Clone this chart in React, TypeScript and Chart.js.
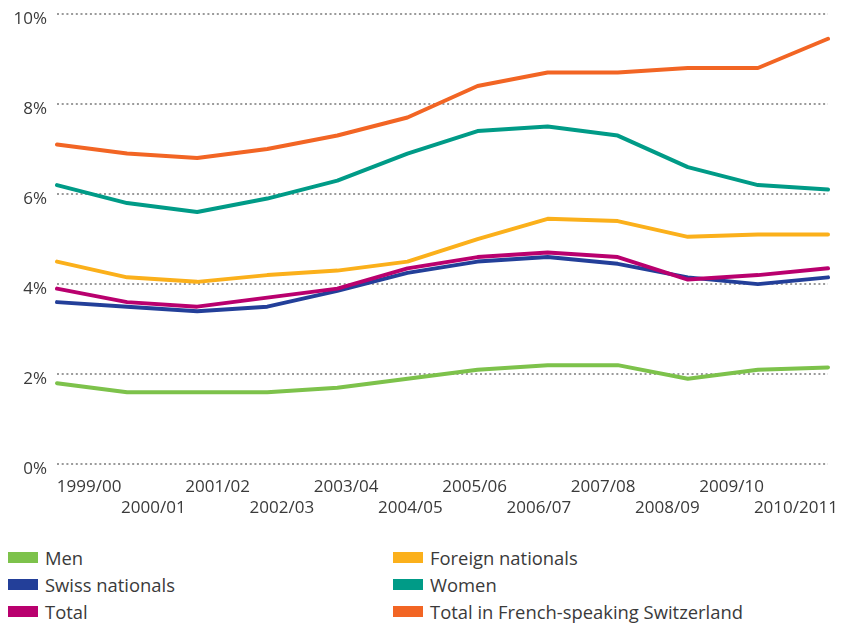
import React, { useEffect, useRef } from 'react';
import { Chart, registerables } from 'chart.js';

Chart.register(...registerables);

const yearLabels = ['1999/00', '2000/01', '2001/02', '2002/03', '2003/04', '2004/05', '2005/06', '2006/07', '2007/08', '2008/09', '2009/10', '2010/2011'];
const yTicks = [0, 2, 4, 6, 8, 10];

const men = [1.8, 1.6, 1.6, 1.6, 1.7, 1.9, 2.1, 2.2, 2.2, 1.9, 2.1, 2.15];
const swiss = [3.6, 3.5, 3.4, 3.5, 3.85, 4.25, 4.5, 4.6, 4.45, 4.15, 4.0, 4.15];
const total = [3.9, 3.6, 3.5, 3.7, 3.9, 4.35, 4.6, 4.7, 4.6, 4.1, 4.2, 4.35];
const foreign = [4.5, 4.15, 4.05, 4.2, 4.3, 4.5, 5.0, 5.45, 5.4, 5.05, 5.1, 5.1];
const women = [6.2, 5.8, 5.6, 5.9, 6.3, 6.9, 7.4, 7.5, 7.3, 6.6, 6.2, 6.1];
const frenchTotal = [7.1, 6.9, 6.8, 7.0, 7.3, 7.7, 8.4, 8.7, 8.7, 8.8, 8.8, 9.45];

const seriesNames = ['Men', 'Swiss nationals', 'Total', 'Foreign nationals', 'Women', 'Total in French-speaking Switzerland'];
const seriesColors = ['#7dc24b', '#233f99', '#b9006e', '#fbb01b', '#009b87', '#f26524'];
const seriesData = [men, swiss, total, foreign, women, frenchTotal];
// drawing order: lower numbers drawn on top
const seriesOrder = [6, 5, 1, 4, 3, 2];

const FONT = '"Open Sans", sans-serif';
const TEXT = '#3a3a3a';

export default function App() {
  const ref = useRef<HTMLCanvasElement>(null);

  useEffect(() => {
    document.body.style.margin = '0';
    const chart = new Chart(ref.current!, {
      type: 'line',
      data: {
        labels: yearLabels,
        datasets: seriesNames.map((name, i) => ({
          label: name,
          data: seriesData[i],
          borderColor: seriesColors[i],
          backgroundColor: seriesColors[i],
          borderWidth: 4,
          pointRadius: 0,
          tension: 0,
          fill: false,
          borderCapStyle: 'round' as const,
          borderJoinStyle: 'round' as const,
          order: seriesOrder[i],
          xAxisID: 'x',
          yAxisID: 'y',
        })),
      },
      options: {
        responsive: false,
        animation: false,
        layout: { padding: { left: 0, top: 14, right: 13, bottom: 3 } },
        plugins: { legend: { display: false }, tooltip: { enabled: false } },
        scales: {
          x: {
            type: 'category',
            display: false,
            offset: false,
            grid: { display: false },
          },
          x2: {
            type: 'category',
            position: 'bottom',
            labels: yearLabels,
            offset: true,
            bounds: 'ticks',
            grid: { display: false, drawTicks: false },
            border: { display: false },
            ticks: {
              autoSkip: false,
              maxRotation: 0,
              minRotation: 0,
              padding: 13,
              color: TEXT,
              font: { family: FONT, size: 17 },
              callback: (_v: any, index: number) =>
                index % 2 === 0 ? yearLabels[index] : ['', yearLabels[index]],
            },
            afterFit: (s: any) => {
              s.paddingLeft = 0;
              s.paddingRight = 0;
            },
          },
          y: {
            min: 0,
            max: 10,
            afterBuildTicks: (s: any) => {
              s.ticks = yTicks.map((v) => ({ value: v }));
            },
            afterFit: (s: any) => {
              s.width = 57;
              s.paddingTop = 0;
              s.paddingBottom = 0;
            },
            grid: {
              color: '#9a9a9a',
              lineWidth: 2,
              drawTicks: false,
              borderDash: [2, 2.7],
            } as any,
            border: { display: false, dash: [2, 2.7] },
            ticks: {
              padding: 10,
              labelOffset: 5,
              color: TEXT,
              font: { family: FONT, size: 17 },
              callback: (v: any) => `${v}%`,
            },
          },
        },
      } as any,
    });
    return () => chart.destroy();
  }, []);

  const col1 = [0, 1, 2];
  const col2 = [3, 4, 5];
  const rowTops = [557, 584, 611];

  const legendItem = (idx: number, row: number, left: number) => (
    <div
      key={idx}
      style={{
        position: 'absolute',
        left,
        top: rowTops[row] - 12,
        height: 24,
        display: 'flex',
        alignItems: 'center',
        whiteSpace: 'nowrap',
      }}
    >
      <span style={{ display: 'inline-block', width: 30, height: 11, background: seriesColors[idx], marginRight: 7 }} />
      <span style={{ fontFamily: FONT, fontSize: 18.4, color: TEXT }}>{seriesNames[idx]}</span>
    </div>
  );

  return (
    <div style={{ position: 'relative', width: 841, height: 624, overflow: 'hidden', background: '#fff' }}>
      <canvas ref={ref} width={841} height={534} style={{ position: 'absolute', left: 0, top: 0 }} />
      {col1.map((idx, r) => legendItem(idx, r, 8))}
      {col2.map((idx, r) => legendItem(idx, r, 393))}
    </div>
  );
}
